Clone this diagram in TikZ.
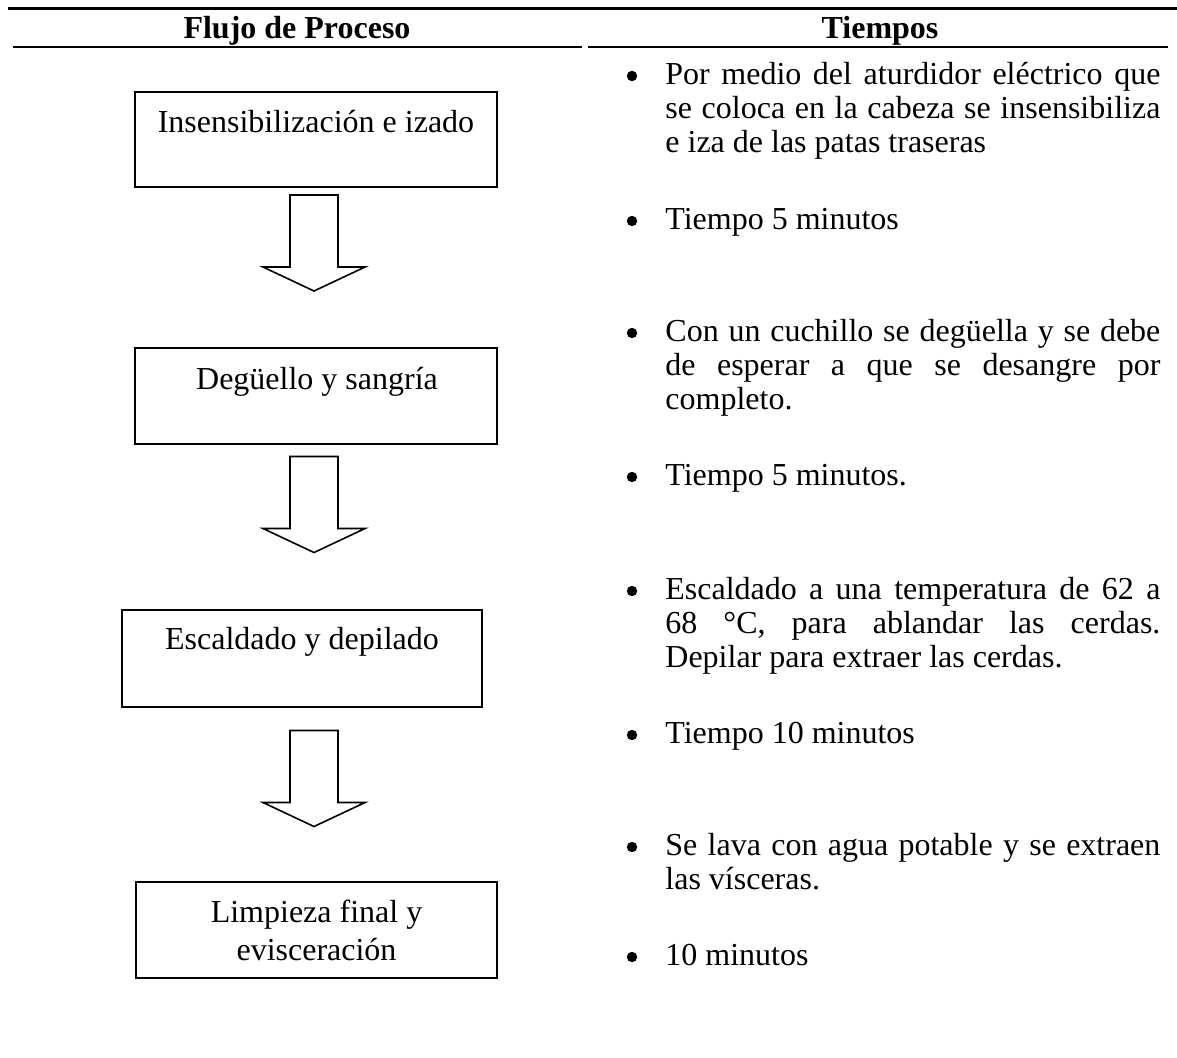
\documentclass[tikz,border=0pt]{standalone}
\usepackage{fontspec}
\setmainfont{Liberation Serif}
\tikzset{
  toprule/.style={line width=1.5pt},
  midrule/.style={line width=1pt},
  procbox/.style={draw, line width=0.8pt, rectangle, inner sep=0pt, outer sep=0pt},
  boxtext/.style={font=\fontsize{16}{19}\selectfont, align=center, inner sep=0pt},
  headtext/.style={font=\fontsize{16}{19}\selectfont\bfseries, inner sep=0pt, anchor=base},
  para/.style={font=\fontsize{16}{17}\selectfont, text width=247.5pt, align=justify, inner sep=0pt, anchor=north west},
  bulletdot/.style={circle, fill=black, draw=none, inner sep=0pt, minimum size=5.2pt},
  arrowline/.style={draw, line width=0.8pt, line join=miter},
  blockarrow/.pic={\draw[arrowline] (-24,0) -- (-24,72) -- (-51,72) -- (0,96) -- (51,72) -- (24,72) -- (24,0) -- cycle;}
}
\begin{document}
\begin{tikzpicture}[x=0.5pt,y=-0.5pt]
\useasboundingbox (0,0) rectangle (1177,1057);
% header rules
\coordinate (tl) at (8,8.5);
\coordinate (tr) at (1177,8.5);
\draw[toprule] (tl) -- (tr);
\coordinate (ul1) at (13,47);
\coordinate (ur1) at (582,47);
\coordinate (ul2) at (588,47);
\coordinate (ur2) at (1168,47);
\draw[midrule] (ul1) -- (ur1);
\draw[midrule] (ul2) -- (ur2);
\node[headtext] (h1) at (297,38) {Flujo de Proceso};
\node[headtext] (h2) at (880,38) {Tiempos};
% process boxes
\node[procbox, minimum width=181pt, minimum height=47.5pt] (b1) at (316,139.5) {};
\node[procbox, minimum width=181pt, minimum height=48pt] (b2) at (316,396) {};
\node[procbox, minimum width=180pt, minimum height=48.5pt] (b3) at (302,658.5) {};
\node[procbox, minimum width=180.5pt, minimum height=48pt] (b4) at (316.5,930) {};
\node[boxtext, anchor=base] (t1) at (316,132) {Insensibilización e izado};
\node[boxtext, anchor=base] (t2) at (317,389) {Degüello y sangría};
\node[boxtext, anchor=base] (t3) at (302,649) {Escaldado y depilado};
\node[boxtext, anchor=north] (t4) at (316.5,895.4) {\strut Limpieza final y\\evisceración};
% block arrows
\pic at (314,195) {blockarrow};
\pic at (314,456.5) {blockarrow};
\pic at (314,730.5) {blockarrow};
% right column
\node[bulletdot] (d1) at (632,76) {};
\node[para] (p1) at (665,60.2) {\strut Por medio del aturdidor eléctrico que\linebreak se coloca en la cabeza se insensibiliza\linebreak e iza de las patas traseras};
\node[bulletdot] (d2) at (632,221) {};
\node[para] (p2) at (665,205.2) {\strut Tiempo 5 minutos};
\node[bulletdot] (d3) at (632,333) {};
\node[para] (p3) at (665,317.2) {\strut Con un cuchillo se degüella y se debe\linebreak de esperar a que se desangre por\linebreak completo.};
\node[bulletdot] (d4) at (632,477) {};
\node[para] (p4) at (665,461.2) {\strut Tiempo 5 minutos.};
\node[bulletdot] (d5) at (632,591) {};
\node[para] (p5) at (665,575.2) {\strut Escaldado a una temperatura de 62 a\linebreak 68 °C, para ablandar las cerdas.\linebreak Depilar para extraer las cerdas.};
\node[bulletdot] (d6) at (632,735) {};
\node[para] (p6) at (665,719.2) {\strut Tiempo 10 minutos};
\node[bulletdot] (d7) at (632,847) {};
\node[para] (p7) at (665,831.2) {\strut Se lava con agua potable y se extraen\linebreak las vísceras.};
\node[bulletdot] (d8) at (632,957) {};
\node[para] (p8) at (665,941.2) {\strut 10 minutos};
\end{tikzpicture}
\end{document}
